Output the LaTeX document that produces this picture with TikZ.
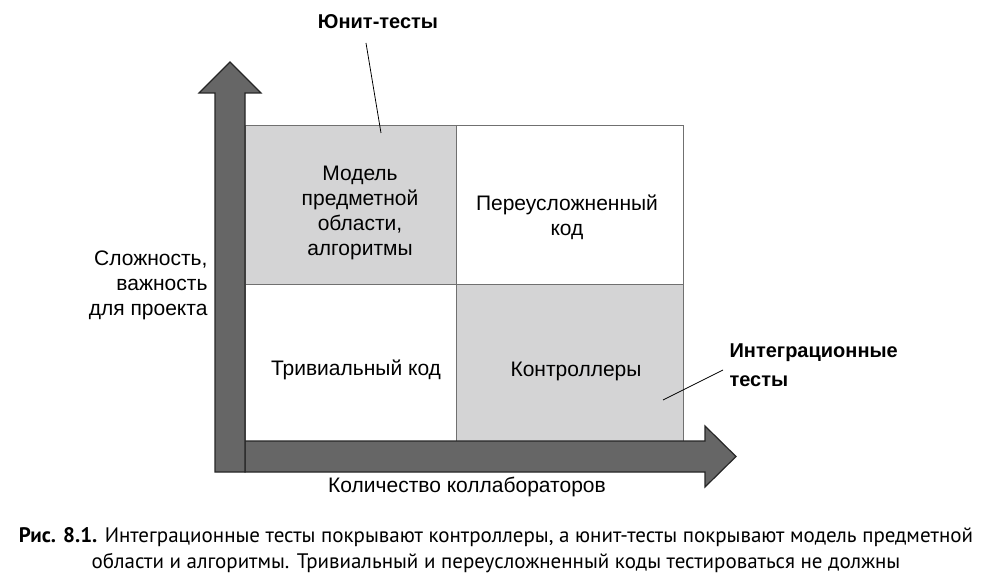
\documentclass[tikz,border=0pt]{standalone}
\usepackage{fontspec}
\setmainfont{Liberation Sans}
\newfontfamily\capfont{PT Sans}
\definecolor{arrowfill}{HTML}{666666}
\definecolor{arrowline}{HTML}{262626}
\definecolor{cellgray}{HTML}{D4D4D5}
\definecolor{gridline}{HTML}{707070}
\begin{document}
\begin{tikzpicture}[x=1pt,y=-1pt,
  cell/.style={draw=gridline,line width=1pt,inner sep=0pt,anchor=north west},
  celltext/.style={align=center,font=\fontsize{21}{25}\selectfont,text=black},
  bigarrow/.style={fill=arrowfill,draw=arrowline,line width=1.2pt,line join=miter},
  boldlabel/.style={font=\fontsize{20}{29}\selectfont\bfseries,align=left},
  axislabel/.style={font=\fontsize{21}{25}\selectfont},
  leader/.style={draw=black,line width=0.8pt}]
\useasboundingbox (0,0) rectangle (996,588);
% cells
\node[cell,fill=cellgray,minimum width=211pt,minimum height=159pt] (c11) at (245,125) {};
\node[cell,fill=white,minimum width=227pt,minimum height=159pt] (c12) at (456,125) {};
\node[cell,fill=white,minimum width=211pt,minimum height=157pt] (c21) at (245,284) {};
\node[cell,fill=cellgray,minimum width=227pt,minimum height=157pt] (c22) at (456,284) {};
% cell texts
\node[celltext] (t11) at (360,213) {Модель\\предметной\\области,\\алгоритмы};
\node[celltext] (t12) at (567,217) {Переусложненный\\код};
\node[celltext] (t21) at (356,370) {Тривиальный код};
\node[celltext] (t22) at (576,371) {Контроллеры};
% arrows
\path[bigarrow] (245,441) -- (705,441) -- (705,426) -- (736,456.5) -- (705,487) -- (705,472) -- (245,472) -- cycle;
\path[bigarrow] (215,472) -- (215,93) -- (199,93) -- (230,62) -- (261,93) -- (245,93) -- (245,472) -- cycle;
% axis labels
\node[axislabel,align=right,anchor=east] (ylab) at (211,285) {Сложность,\\важность\\для проекта};
\node[axislabel] (xlab) at (467,487) {Количество коллабораторов};
% callouts
\node[boldlabel] (unit) at (378,22) {Юнит-тесты};
\node[boldlabel,anchor=west] (integ) at (726,365) {Интеграционные\\тесты};
\coordinate (unitend) at (381,133);
\coordinate (unitstart) at (366,43);
\coordinate (integstart) at (723,370);
\coordinate (integend) at (663,400);
\draw[leader] (unitstart) -- (unitend);
\draw[leader] (integstart) -- (integend);
% caption
\node[font=\capfont\fontsize{21}{26}\selectfont,align=center,anchor=north] (cap) at (496,524)
  {\textbf{Рис. 8.1.} Интеграционные тесты покрывают контроллеры, а юнит-тесты покрывают модель предметной\\
  области и алгоритмы. Тривиальный и переусложненный коды тестироваться не должны};
\end{tikzpicture}
\end{document}
